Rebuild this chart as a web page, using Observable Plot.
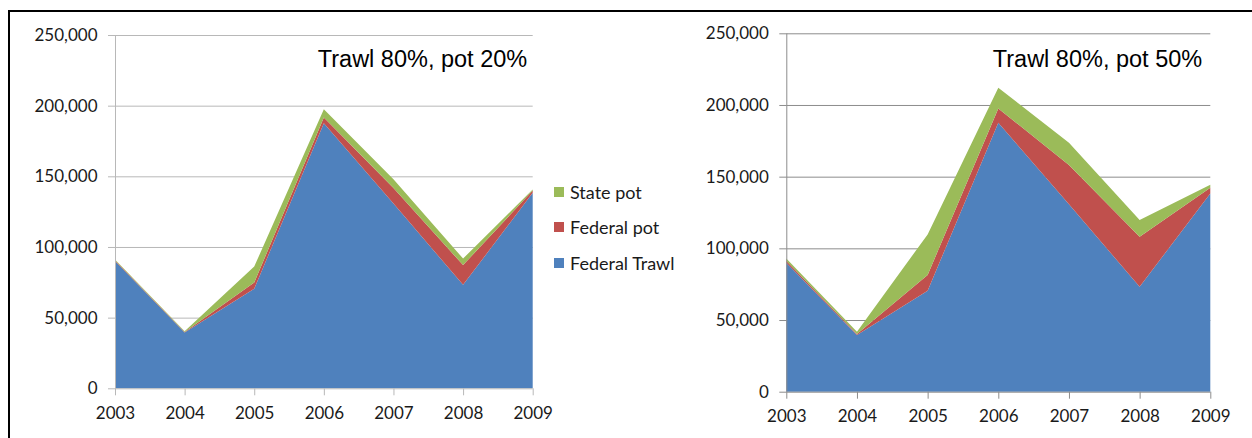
<!DOCTYPE html>
<html>
<head>
<meta charset="utf-8">
<script src="https://cdn.jsdelivr.net/npm/d3@7"></script>
<script src="https://cdn.jsdelivr.net/npm/@observablehq/plot@0.6"></script>
<style>
  html, body { margin: 0; padding: 0; background: #fff; overflow: hidden; }
  #wrap { position: relative; width: 1252px; height: 438px; overflow: hidden; }
  #frame { position: absolute; left: 8px; top: 10px; width: 1400px; height: 600px;
           border-left: 2px solid #000; border-top: 2px solid #000; box-sizing: border-box; }
  .chart { position: absolute; top: 0; }
  #legend { position: absolute; left: 554px; top: 0; font-family: Lato, sans-serif; font-size: 18px; color: #1a1a1a; }
  .item { position: absolute; left: 0; height: 20px; display: flex; align-items: center; white-space: nowrap; }
  .sw { width: 10px; height: 10px; margin-right: 6px; }
</style>
</head>
<body>
<div id="wrap">
  <div id="frame"></div>
  <div id="left" class="chart" style="left:0px"></div>
  <div id="legend"></div>
  <div id="right" class="chart" style="left:680px"></div>
</div>
<script>
// ---- data ----
const years = [2003, 2004, 2005, 2006, 2007, 2008, 2009];
const seriesNames = ["Federal Trawl", "Federal pot", "State pot"];
const seriesColors = ["#4F81BD", "#C0504D", "#9BBB59"];
const legendOrder = ["State pot", "Federal pot", "Federal Trawl"];

const federalTrawl = [90000, 39500, 70400, 187600, 130700, 73200, 138300];

// Trawl 80%, pot 20%
const federalPot20 = [560, 280, 4400, 4000, 11000, 14000, 1600];
const statePot20   = [640, 660, 11300, 5800, 6200, 4600, 840];

// Trawl 80%, pot 50%
const federalPot50 = [1400, 700, 11000, 10000, 27400, 34900, 4000];
const statePot50   = [1600, 1650, 28300, 14400, 15600, 11600, 2100];

const yTicks = [0, 50000, 100000, 150000, 200000, 250000];
const title20 = "Trawl 80%, pot 20%";
const title50 = "Trawl 80%, pot 50%";

function rows(fedPot, statePot) {
  const out = [];
  years.forEach((yr, i) => {
    out.push({year: yr, series: "Federal Trawl", value: federalTrawl[i]});
    out.push({year: yr, series: "Federal pot", value: fedPot[i]});
    out.push({year: yr, series: "State pot", value: statePot[i]});
  });
  return out;
}

function makeChart(data, title, opts) {
  return Plot.plot({
    width: opts.width,
    height: 438,
    marginLeft: opts.ml,
    marginRight: opts.mr,
    marginTop: opts.mt,
    marginBottom: opts.mb,
    style: {fontFamily: "Lato, sans-serif", fontSize: "17px", background: "transparent", overflow: "visible", color: "#1a1a1a"},
    x: {domain: [2003, 2009], ticks: years, tickFormat: "d", label: null},
    y: {domain: [0, 250000], ticks: yTicks, label: null},
    color: {domain: seriesNames, range: seriesColors},
    marks: [
      Plot.ruleY(yTicks.filter(d => d > 0), {stroke: opts.grid, strokeWidth: 1}),
      Plot.areaY(data, {x: "year", y: "value", z: "series", fill: "series", order: seriesNames}),
      Plot.ruleX([2003], {stroke: opts.grid}),
      Plot.ruleY([0], {stroke: opts.grid}),
      Plot.axisY({ticks: yTicks, tickFormat: d3.format(","), tickSize: 7, tickPadding: 11, stroke: opts.grid, fill: "#1a1a1a", label: null}),
      Plot.axisX({ticks: years, tickFormat: "d", tickSize: 7, tickPadding: 11, stroke: opts.grid, fill: "#1a1a1a", label: null}),
      Plot.text([title], {frameAnchor: "top-right", text: d => d, dx: opts.tdx, dy: opts.tdy,
        textAnchor: "end", lineAnchor: "middle", fontFamily: "Liberation Sans, Arial, sans-serif",
        fontSize: 23.5, fill: "#000"})
    ]
  });
}

document.getElementById("left").append(
  makeChart(rows(federalPot20, statePot20), title20,
    {width: 545, ml: 115, mr: 12.3, mt: 35, mb: 49.7, grid: "#b8b8b8", tdx: -6, tdy: 24.2})
);
document.getElementById("right").append(
  makeChart(rows(federalPot50, statePot50), title50,
    {width: 560, ml: 106.3, mr: 29.7, mt: 33.3, mb: 46.3, grid: "#8c8c8c", tdx: -8.6, tdy: 25.9})
);

// legend
const legendTops = [182, 217.3, 252.5];
const leg = document.getElementById("legend");
legendOrder.forEach((name, i) => {
  const item = document.createElement("div");
  item.className = "item";
  item.style.top = legendTops[i] + "px";
  const sw = document.createElement("div");
  sw.className = "sw";
  sw.style.background = seriesColors[seriesNames.indexOf(name)];
  const lab = document.createElement("span");
  lab.textContent = name;
  item.append(sw, lab);
  leg.append(item);
});
</script>
</body>
</html>
